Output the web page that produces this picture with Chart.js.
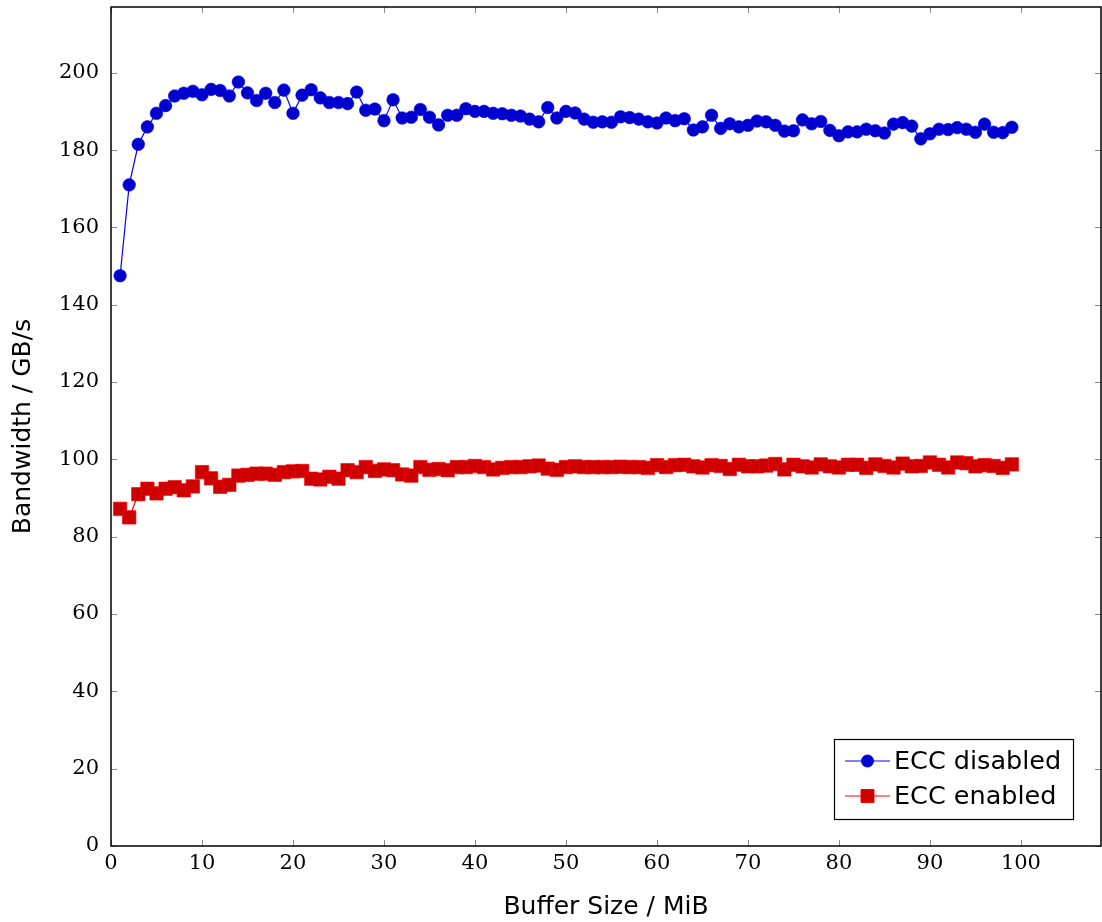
<!DOCTYPE html>
<html>
<head>
<meta charset="utf-8">
<script src="https://cdn.jsdelivr.net/npm/chart.js@4/dist/chart.umd.min.js"></script>
<style>
  html, body { margin: 0; padding: 0; background: #fff; }
  #wrap { width: 1102px; height: 922px; position: relative; }
</style>
</head>
<body>
<div id="wrap"><canvas id="bwChart"></canvas></div>
<script>
// buffer sizes in MiB
const sizes = [];
for (let i = 1; i <= 99; i++) sizes.push(i);

const eccDisabled = [
  147.5, 171.0, 181.5, 186.0, 189.5, 191.5, 194.0, 194.7, 195.2, 194.3,
  195.7, 195.4, 194.0, 197.6, 194.8, 192.8, 194.7, 192.3, 195.5, 189.5,
  194.2, 195.6, 193.5, 192.3, 192.3, 192.0, 195.0, 190.3, 190.6, 187.6,
  193.0, 188.3, 188.5, 190.5, 188.5, 186.5, 189.0, 189.0, 190.7, 190.0,
  190.0, 189.5, 189.4, 189.0, 188.8, 188.0, 187.3, 191.0, 188.3, 190.0,
  189.6, 188.0, 187.2, 187.3, 187.2, 188.6, 188.4, 188.0, 187.3, 187.0,
  188.3, 187.6, 188.1, 185.2, 186.0, 189.0, 185.6, 186.8, 186.0, 186.4,
  187.5, 187.3, 186.4, 184.9, 185.0, 187.8, 186.8, 187.4, 185.1, 183.7,
  184.7, 184.7, 185.4, 185.0, 184.4, 186.7, 187.1, 186.2, 182.9, 184.2,
  185.4, 185.3, 185.8, 185.4, 184.6, 186.7, 184.6, 184.5, 185.9
];

const eccEnabled = [
  87.2, 85.0, 91.0, 92.4, 91.2, 92.4, 92.8, 92.0, 93.0, 96.7,
  95.1, 92.9, 93.4, 95.8, 96.0, 96.3, 96.3, 96.0, 96.7, 96.9,
  97.0, 95.0, 94.8, 95.5, 95.0, 97.2, 96.7, 98.0, 97.0, 97.4,
  97.2, 96.1, 95.8, 98.0, 97.3, 97.5, 97.2, 98.0, 98.0, 98.3,
  98.0, 97.4, 97.8, 98.0, 98.0, 98.2, 98.4, 97.6, 97.3, 98.0,
  98.2, 98.0, 98.0, 98.0, 98.0, 98.1, 98.0, 98.0, 97.8, 98.5,
  98.0, 98.5, 98.6, 98.2, 97.9, 98.5, 98.3, 97.5, 98.6, 98.2,
  98.2, 98.4, 98.8, 97.4, 98.6, 98.2, 97.9, 98.7, 98.2, 97.9,
  98.6, 98.6, 97.8, 98.7, 98.3, 97.9, 98.9, 98.2, 98.3, 99.2,
  98.6, 97.9, 99.2, 99.0, 98.2, 98.5, 98.3, 97.8, 98.7
];

const xTicks = [0, 10, 20, 30, 40, 50, 60, 70, 80, 90, 100];
const yTicks = [0, 20, 40, 60, 80, 100, 120, 140, 160, 180, 200];

const tickFont = { family: '"DejaVu Serif", "Liberation Serif", serif', size: 21 };
const titleFont = { family: '"DejaVu Sans", "Noto Sans", sans-serif', size: 25 };

const series = [
  { label: 'ECC disabled', data: eccDisabled, line: 'rgb(0,0,255)', fill: 'rgb(0,0,204)', style: 'circle', r: 6.3 },
  { label: 'ECC enabled', data: eccEnabled, line: 'rgb(255,0,0)', fill: 'rgb(204,0,0)', style: 'rect', r: 9.5 }
];

// pgfplots-like frame, inward ticks and legend box
const framePlugin = {
  id: 'frame',
  afterDraw(chart) {
    const { ctx, chartArea: a, scales } = chart;
    ctx.save();
    ctx.strokeStyle = '#888';
    ctx.lineWidth = 1;
    const t = 6;
    ctx.beginPath();
    scales.x.ticks.forEach(tk => {
      const px = Math.round(scales.x.getPixelForValue(tk.value)) + 0.5;
      ctx.moveTo(px, a.bottom); ctx.lineTo(px, a.bottom - t);
      ctx.moveTo(px, a.top); ctx.lineTo(px, a.top + t);
    });
    scales.y.ticks.forEach(tk => {
      const py = Math.round(scales.y.getPixelForValue(tk.value)) + 0.5;
      ctx.moveTo(a.left, py); ctx.lineTo(a.left + t, py);
      ctx.moveTo(a.right, py); ctx.lineTo(a.right - t, py);
    });
    ctx.stroke();

    ctx.strokeStyle = '#000';
    ctx.lineWidth = 1.5;
    ctx.strokeRect(a.left, a.top, a.right - a.left, a.bottom - a.top);

    // legend
    const bx = 834, by = 739, bw = 239, bh = 80;
    ctx.fillStyle = '#fff';
    ctx.fillRect(bx, by, bw, bh);
    ctx.lineWidth = 1.2;
    ctx.strokeRect(bx + 0.5, by + 0.5, bw, bh);
    ctx.font = '25.5px "DejaVu Sans", "Noto Sans", sans-serif';
    ctx.textBaseline = 'middle';
    series.forEach((s, i) => {
      const cy = by + 22 + i * 35;
      ctx.strokeStyle = s.line;
      ctx.lineWidth = 1;
      ctx.beginPath();
      ctx.moveTo(bx + 11, cy); ctx.lineTo(bx + 56, cy);
      ctx.stroke();
      ctx.fillStyle = s.fill;
      ctx.strokeStyle = s.line;
      ctx.beginPath();
      if (s.style === 'circle') {
        ctx.arc(bx + 33.5, cy, 6, 0, Math.PI * 2);
      } else {
        ctx.rect(bx + 27, cy - 6.5, 13, 13);
      }
      ctx.fill();
      ctx.stroke();
      ctx.fillStyle = '#000';
      ctx.fillText(s.label, bx + 60, cy + 1);
    });
    ctx.restore();
  }
};

new Chart(document.getElementById('bwChart'), {
  type: 'line',
  data: {
    datasets: series.map(s => ({
      label: s.label,
      data: s.data.map((v, i) => ({ x: sizes[i], y: v })),
      borderColor: s.line,
      borderWidth: 1.2,
      backgroundColor: s.fill,
      pointStyle: s.style,
      pointRadius: s.r,
      pointHoverRadius: s.r,
      pointBackgroundColor: s.fill,
      pointBorderColor: s.line,
      pointBorderWidth: 0.6,
      tension: 0,
      fill: false
    }))
  },
  options: {
    responsive: true,
    maintainAspectRatio: false,
    animation: false,
    events: [],
    layout: { autoPadding: false, padding: { top: 7, right: 1, left: 0, bottom: 0 } },
    plugins: { legend: { display: false }, tooltip: { enabled: false } },
    scales: {
      x: {
        type: 'linear',
        min: 0,
        max: 108.8,
        afterBuildTicks: sc => { sc.ticks = xTicks.map(v => ({ value: v })); },
        afterFit: sc => { sc.height = 76; sc.paddingLeft = 0; sc.paddingRight = 0; },
        grid: { display: false, drawTicks: false },
        border: { display: false },
        ticks: { color: '#000', font: tickFont, padding: 5, maxRotation: 0 },
        title: { display: true, text: 'Buffer Size / MiB', color: '#000', font: titleFont, padding: { top: 5, bottom: 0 } }
      },
      y: {
        type: 'linear',
        min: 0,
        max: 217,
        afterBuildTicks: sc => { sc.ticks = yTicks.map(v => ({ value: v })); },
        afterFit: sc => { sc.width = 111; sc.paddingTop = 0; sc.paddingBottom = 0; },
        grid: { display: false, drawTicks: false },
        border: { display: false },
        ticks: { color: '#000', font: tickFont, padding: 12 },
        title: { display: true, text: 'Bandwidth / GB/s', color: '#000', font: titleFont, padding: { top: 8, bottom: 0 } }
      }
    }
  },
  plugins: [framePlugin]
});
</script>
</body>
</html>
